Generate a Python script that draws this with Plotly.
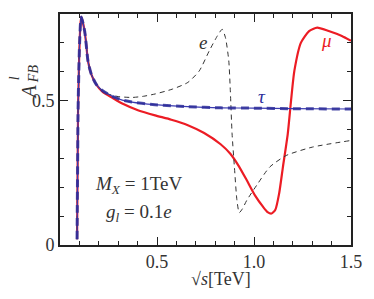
import plotly.graph_objects as go

# common threshold ramp and early decay (sqrt(s) in TeV, A_FB)
ramp_x = [0.088, 0.090, 0.093, 0.097, 0.101, 0.106, 0.110, 0.127, 0.135, 0.144, 0.161, 0.186]
ramp_y = [0.02, 0.20, 0.46, 0.60, 0.70, 0.77, 0.79, 0.741, 0.695, 0.638, 0.592, 0.557]

mu_x = ramp_x + [0.220, 0.270, 0.321, 0.405, 0.490, 0.574, 0.659, 0.743, 0.828, 0.878, 0.920,
                 0.963, 1.005, 1.047, 1.070, 1.090, 1.110, 1.130, 1.149, 1.174, 1.191, 1.208,
                 1.242, 1.284, 1.326, 1.385, 1.453, 1.500]
mu_y = ramp_y + [0.530, 0.510, 0.490, 0.466, 0.449, 0.434, 0.415, 0.388, 0.349, 0.316, 0.275,
                 0.224, 0.172, 0.132, 0.114, 0.109, 0.122, 0.180, 0.270, 0.385, 0.500, 0.603,
                 0.701, 0.741, 0.753, 0.741, 0.724, 0.707]

e_x = ramp_x + [0.220, 0.253, 0.300, 0.372, 0.430, 0.490, 0.580, 0.659, 0.718, 0.769, 0.811,
                0.836, 0.853, 0.870, 0.878, 0.887, 0.899, 0.912, 0.924, 0.940, 0.963, 1.014,
                1.081, 1.166, 1.301, 1.500]
e_y = ramp_y + [0.534, 0.522, 0.514, 0.511, 0.515, 0.523, 0.540, 0.563, 0.603, 0.672, 0.724,
                0.747, 0.718, 0.638, 0.534, 0.385, 0.270, 0.155, 0.112, 0.125, 0.155, 0.207,
                0.270, 0.310, 0.339, 0.362]

tau_x = ramp_x + [0.220, 0.270, 0.321, 0.370, 0.490, 0.659, 0.828, 1.000, 1.200, 1.500]
tau_y = ramp_y + [0.534, 0.515, 0.502, 0.495, 0.486, 0.479, 0.475, 0.474, 0.472, 0.471]

x_ticks = [0, 0.5, 1.0, 1.5]
x_ticklabels = ["", "0.5", "1.0", "1.5"]
y_ticks = [0, 0.5]
y_ticklabels = ["0", "0.5"]

FONT = "Liberation Serif"
INK = "#333333"
RED = "#ec1c24"
BLUE = "#2e2e9a"

fig = go.Figure()
fig.add_trace(go.Scatter(x=mu_x, y=mu_y, mode="lines",
                         line=dict(color=RED, width=2.2, shape="spline", smoothing=0.6)))
fig.add_trace(go.Scatter(x=e_x, y=e_y, mode="lines",
                         line=dict(color="#333333", width=1, dash="5px,4px", shape="spline", smoothing=0.6)))
fig.add_trace(go.Scatter(x=tau_x, y=tau_y, mode="lines",
                         line=dict(color="#3a3ab0", width=1.2, shape="spline", smoothing=0.6)))
fig.add_trace(go.Scatter(x=tau_x, y=tau_y, mode="lines", opacity=0.85,
                         line=dict(color=BLUE, width=3, dash="8px,5px", shape="spline", smoothing=0.6)))

axis_common = dict(showline=True, linecolor="#222222", linewidth=1.6, mirror="ticks",
                   ticks="inside", ticklen=8, tickwidth=1.3, tickcolor="#222222",
                   showgrid=False, zeroline=False,
                   tickfont=dict(family=FONT, size=18, color=INK))

fig.update_xaxes(range=[0, 1.5], tickvals=x_ticks, ticktext=x_ticklabels, ticklabelstandoff=0,
                 minor=dict(dtick=0.1, tick0=0, ticks="inside", ticklen=4, tickwidth=1.1,
                            tickcolor="#222222", showgrid=False),
                 **axis_common)
fig.update_yaxes(range=[0, 0.8], tickvals=y_ticks, ticktext=y_ticklabels,
                 minor=dict(dtick=0.1, tick0=0, ticks="inside", ticklen=4, tickwidth=1.1,
                            tickcolor="#222222", showgrid=False),
                 **axis_common)

def ann(x, y, text, size=19, color=INK, angle=0):
    fig.add_annotation(x=x, y=y, xref="x", yref="y", text=text, showarrow=False,
                       textangle=angle, font=dict(family=FONT, size=size, color=color))

def pann(x, y, text, size=19, color=INK, angle=0):
    fig.add_annotation(x=x, y=y, xref="paper", yref="paper", text=text, showarrow=False,
                       textangle=angle, font=dict(family=FONT, size=size, color=color))

ann(0.735, 0.701, "<i>e</i>", 19)
ann(1.372, 0.707, "<i>μ</i>", 19, RED)
ann(1.04, 0.515, "<i>τ</i>", 19, BLUE)
ann(0.404, 0.207, "<i>M</i><sub><i>X</i></sub> = 1TeV", 19)
ann(0.409, 0.110, "<i>g</i><sub><i>l</i></sub> = 0.1<i>e</i>", 19)
# y-axis title pieces (rotated)
pann(-0.1515, 0.705, "<i>A</i>", 20, angle=-90)
pann(-0.19, 0.74, "<i>l</i>", 14, angle=-90)
pann(-0.125, 0.79, "<i>FB</i>", 14, angle=-90)
# x-axis title
pann(0.552, -0.2, "√<i>s</i>[TeV]", 18)

fig.update_layout(width=374, height=299, margin=dict(l=60, r=17, t=13, b=54),
                  plot_bgcolor="white", paper_bgcolor="white", showlegend=False)

fig.write_html("out.html", config={"displayModeBar": False},
               post_script="document.body.style.margin='0';")
